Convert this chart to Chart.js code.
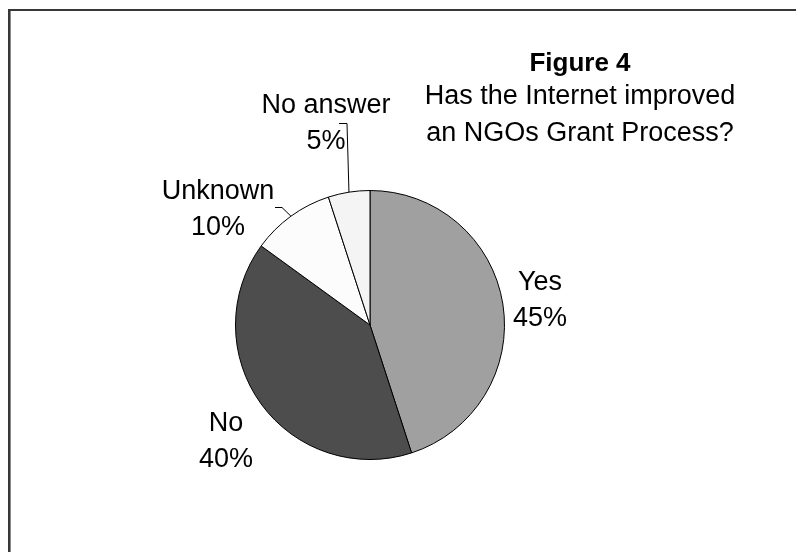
<!DOCTYPE html>
<html>
<head>
<meta charset="utf-8">
<script src="https://cdn.jsdelivr.net/npm/chart.js@4/dist/chart.umd.min.js"></script>
<style>
  html, body { margin: 0; padding: 0; background: #ffffff; }
  #c { display: block; }
</style>
</head>
<body>
<canvas id="c" width="796" height="552"></canvas>
<script>
// ---- data ----
const categories = ["Yes", "No", "Unknown", "No answer"];
const shares = [45, 40, 10, 5];
const titleBold = "Figure 4";
const titleLines = ["Has the Internet improved", "an NGOs Grant Process?"];

// ---- styles / layout (not data) ----
const sliceColors = ["#a0a0a0", "#4d4d4d", "#fcfcfc", "#f4f4f4"];
const FONT = "27px 'Liberation Sans', Arial, sans-serif";
const FONT_B = "bold 26px 'Liberation Sans', Arial, sans-serif";
// label anchor offsets relative to pie centre (px): [dx, dy of first baseline]
const labelOffsets = [[170, -35], [-144, 106], [-152, -126], [-44, -212]];
const lineGap = 36;
// leader lines for small slices: corner and end offsets relative to pie centre
const leaders = [null, null, [[-88, -118], [-95, -118]], [[-23, -202], [-31, -202]]];

const overlay = {
  id: 'overlay',
  beforeDraw(chart) {
    const ctx = chart.ctx;
    ctx.save();
    ctx.fillStyle = '#ffffff';
    ctx.fillRect(0, 0, chart.width, chart.height);
    ctx.restore();
  },
  afterDraw(chart) {
    const ctx = chart.ctx;
    const arcs = chart.getDatasetMeta(0).data;
    const cx = arcs[0].x, cy = arcs[0].y;
    ctx.save();
    // frame
    ctx.fillStyle = '#383838';
    ctx.fillRect(8, 9, chart.width, 2);
    ctx.fillRect(8, 9, 2, chart.height);
    ctx.fillStyle = '#8a8a8a';
    ctx.fillRect(10, 11, 1, chart.height);

    // leader lines
    ctx.strokeStyle = '#000000';
    ctx.lineWidth = 1;
    arcs.forEach((a, i) => {
      const L = leaders[i];
      if (!L) return;
      const mid = (a.startAngle + a.endAngle) / 2;
      const sx = cx + Math.cos(mid) * a.outerRadius;
      const sy = cy + Math.sin(mid) * a.outerRadius;
      ctx.beginPath();
      ctx.moveTo(sx, sy);
      ctx.lineTo(cx + L[0][0], cy + L[0][1] + 0.5);
      ctx.lineTo(cx + L[1][0], cy + L[1][1] + 0.5);
      ctx.stroke();
    });

    // slice labels
    ctx.fillStyle = '#000000';
    ctx.textAlign = 'center';
    ctx.textBaseline = 'alphabetic';
    ctx.font = FONT;
    arcs.forEach((a, i) => {
      const o = labelOffsets[i];
      ctx.fillText(categories[i], cx + o[0], cy + o[1]);
      ctx.fillText(shares[i] + '%', cx + o[0], cy + o[1] + lineGap);
    });

    // title
    ctx.font = FONT_B;
    ctx.fillText(titleBold, 580, 71);
    ctx.font = FONT;
    titleLines.forEach((t, k) => ctx.fillText(t, 580, 104 + k * 37));
    ctx.restore();
  }
};

new Chart(document.getElementById('c'), {
  type: 'pie',
  data: {
    labels: categories,
    datasets: [{
      data: shares,
      backgroundColor: sliceColors,
      borderColor: '#000000',
      borderWidth: 1,
      hoverOffset: 0
    }]
  },
  options: {
    responsive: false,
    animation: false,
    events: [],
    layout: { padding: { top: 190, bottom: 92, left: 100, right: 156 } },
    plugins: {
      legend: { display: false },
      tooltip: { enabled: false },
      title: { display: false }
    }
  },
  plugins: [overlay]
});
</script>
</body>
</html>
